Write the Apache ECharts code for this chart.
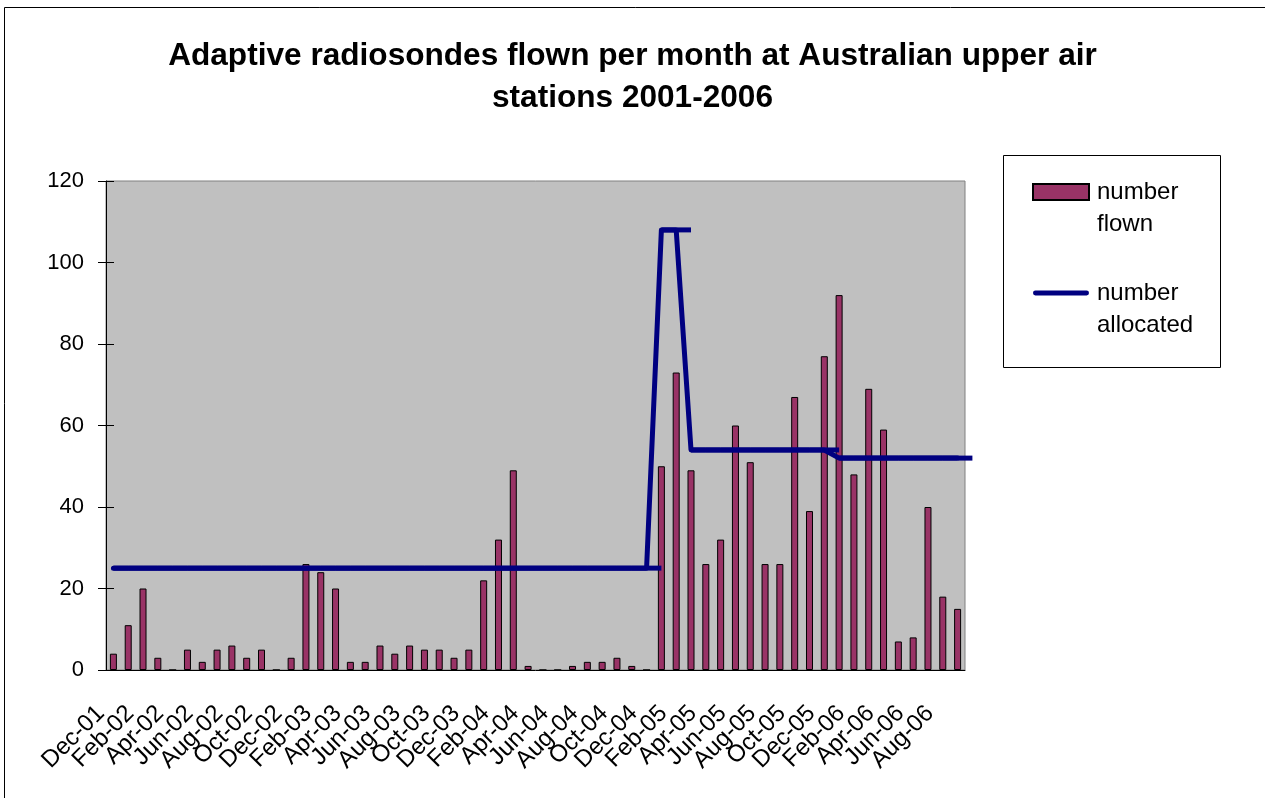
<!DOCTYPE html>
<html>
<head>
<meta charset="utf-8">
<script src="https://cdn.jsdelivr.net/npm/echarts@6/dist/echarts.min.js"></script>
<style>
  html, body { margin: 0; padding: 0; background: #fff; }
  #chart { width: 1265px; height: 798px; }
</style>
</head>
<body>
<div id="chart"></div>
<script>
// months Dec-01 .. Sep-06
const months = [
  'Dec-01', 'Jan-02', 'Feb-02', 'Mar-02', 'Apr-02', 'May-02', 'Jun-02', 'Jul-02', 'Aug-02', 'Sep-02', 'Oct-02', 'Nov-02',
  'Dec-02', 'Jan-03', 'Feb-03', 'Mar-03', 'Apr-03', 'May-03', 'Jun-03', 'Jul-03', 'Aug-03', 'Sep-03', 'Oct-03', 'Nov-03',
  'Dec-03', 'Jan-04', 'Feb-04', 'Mar-04', 'Apr-04', 'May-04', 'Jun-04', 'Jul-04', 'Aug-04', 'Sep-04', 'Oct-04', 'Nov-04',
  'Dec-04', 'Jan-05', 'Feb-05', 'Mar-05', 'Apr-05', 'May-05', 'Jun-05', 'Jul-05', 'Aug-05', 'Sep-05', 'Oct-05', 'Nov-05',
  'Dec-05', 'Jan-06', 'Feb-06', 'Mar-06', 'Apr-06', 'May-06', 'Jun-06', 'Jul-06', 'Aug-06', 'Sep-06'
];

const flown = [
  4, 11, 20, 3, 0, 5, 2, 5, 6, 3, 5, 0,
  3, 26, 24, 20, 2, 2, 6, 4, 6, 5, 5, 3,
  5, 22, 32, 49, 1, 0, 0, 1, 2, 2, 3, 1,
  0, 50, 73, 49, 26, 32, 60, 51, 26, 26, 67, 39,
  77, 92, 48, 69, 59, 7, 8, 40, 18, 15
];

const allocated = [
  25, 25, 25, 25, 25, 25, 25, 25, 25, 25, 25, 25,
  25, 25, 25, 25, 25, 25, 25, 25, 25, 25, 25, 25,
  25, 25, 25, 25, 25, 25, 25, 25, 25, 25, 25, 25,
  25, 108, 108, 54, 54, 54, 54, 54, 54, 54, 54, 54,
  54, 52, 52, 52, 52, 52, 52, 52, 52, 52
];

const yTicks = { min: 0, max: 120, step: 20 };

const font = '"Liberation Sans", Arial, sans-serif';
const chart = echarts.init(document.getElementById('chart'));
const bandW = 859 / months.length;

chart.setOption({
  animation: false,
  textStyle: { fontFamily: font, color: '#000' },
  title: {
    text: 'Adaptive radiosondes flown per month at Australian upper air\nstations 2001-2006',
    left: 'center',
    top: 30,
    textStyle: { fontFamily: font, fontSize: 31.6, fontWeight: 'bold', lineHeight: 42, color: '#000' }
  },
  graphic: [
    { type: 'rect', shape: { x: 4.5, y: 7.5, width: 1300, height: 900 }, style: { fill: 'none', stroke: '#000', lineWidth: 1 }, silent: true },
    { type: 'rect', shape: { x: 1003.5, y: 155.5, width: 217, height: 212 }, style: { fill: '#fff', stroke: '#000', lineWidth: 1 }, silent: true, z: -1 }
  ],
  legend: {
    orient: 'vertical',
    left: 1027,
    top: 139,
    itemWidth: 56,
    itemHeight: 16,
    itemGap: 5,
    selectedMode: false,
    // blank first line so the swatch sits beside the first word
    formatter: name => ' \n' + name.replace(' ', '\n'),
    textStyle: { fontFamily: font, fontSize: 24, lineHeight: 32, color: '#000', padding: [0, 0, 0, 3] },
    data: [
      { name: 'number flown', icon: 'rect' },
      { name: 'number allocated', icon: 'path://M2.5,0H55.5A2.5,2.5,0,0,1,55.5,5H2.5A2.5,2.5,0,0,1,2.5,0Z' }
    ]
  },
  grid: {
    left: 106, top: 181, width: 859, height: 489,
    show: true, backgroundColor: '#C0C0C0', borderColor: '#808080', borderWidth: 1
  },
  xAxis: {
    type: 'category',
    data: months,
    boundaryGap: true,
    axisLine: { lineStyle: { color: '#000', width: 1 } },
    axisTick: { interval: 0, length: 8, lineStyle: { color: '#000' } },
    axisLabel: {
      interval: 0, rotate: 45, margin: 27, fontSize: 24, color: '#000', fontFamily: font,
      hideOverlap: false,
      formatter: (v, i) => (i % 2 === 0 ? v : ''),
      padding: [0, 18, 0, 0]
    }
  },
  yAxis: [
    {
      type: 'value', min: yTicks.min, max: yTicks.max, interval: yTicks.step,
      axisLine: { show: true, lineStyle: { color: '#000' } },
      axisTick: { show: true, length: 8, lineStyle: { color: '#000' } },
      axisLabel: { fontSize: 22, margin: 22, color: '#000', fontFamily: font },
      splitLine: { show: false }
    },
    {
      type: 'value', min: yTicks.min, max: yTicks.max, interval: yTicks.step, position: 'left',
      axisLine: { show: false },
      axisTick: { show: true, inside: true, length: 8, lineStyle: { color: '#000' } },
      axisLabel: { show: false },
      splitLine: { show: false }
    }
  ],
  series: [
    {
      name: 'number flown',
      type: 'bar',
      data: flown,
      barWidth: 7,
      itemStyle: { color: '#993366', borderColor: '#000', borderWidth: 1 },
      emphasis: { disabled: true }
    },
    {
      name: 'number allocated',
      type: 'line',
      data: allocated,
      z: 5,
      clip: false,
      showAllSymbol: true,
      symbol: 'rect',
      symbolSize: [bandW, 5],
      symbolOffset: ['50%', 0],
      lineStyle: { color: '#000080', width: 5, cap: 'round', join: 'round' },
      itemStyle: { color: '#000080', borderWidth: 0 },
      emphasis: { disabled: true }
    }
  ]
});
</script>
</body>
</html>
